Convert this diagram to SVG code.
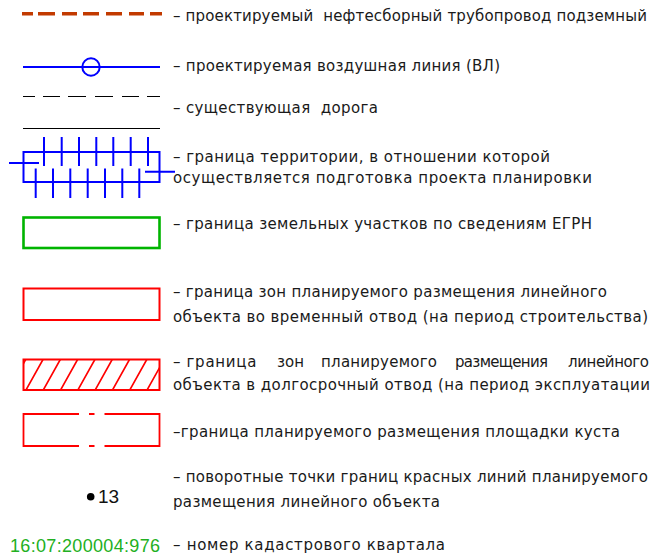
<svg xmlns="http://www.w3.org/2000/svg" width="651" height="560" viewBox="0 0 651 560">
<style>
text.t{font-family:"DejaVu Sans","Noto Sans",sans-serif;font-size:15px;fill:#1a1a1a;white-space:pre}
.blue{stroke:#0000ff;stroke-width:2;fill:none}
.red{stroke:#ff0000;stroke-width:2;fill:none}
</style>
<defs>
<clipPath id="hc"><rect x="23" y="359.5" width="137" height="30.5"/></clipPath>
</defs>
<rect width="651" height="560" fill="#ffffff"/>

<g id="pipeline">
<line x1="22" y1="13.7" x2="162" y2="13.7" stroke="#c23a00" stroke-width="3.5" stroke-dasharray="11 5 17 7 15 6 16 7 16 7 15 6 16 8 10"/>
<text class="t" x="173" y="21" textLength="474">– проектируемый  нефтесборный трубопровод подземный</text>
</g>

<g id="overhead-line">
<line x1="23" y1="67" x2="160" y2="67" class="blue"/>
<circle cx="91" cy="67" r="8.7" class="blue" stroke-width="2.2" fill="#ffffff"/>
<text class="t" x="173" y="71" textLength="327">– проектируемая воздушная линия (ВЛ)</text>
</g>

<g id="road">
<line x1="23" y1="96.5" x2="160" y2="96.5" stroke="#000" stroke-width="1.2" stroke-dasharray="12 8 17 8 18 9 18 9 17 8 17"/>
<line x1="23" y1="128.5" x2="160" y2="128.5" stroke="#000" stroke-width="1.2"/>
<text class="t" x="173" y="113" textLength="205">– существующая  дорога</text>
</g>

<g id="territory">
<rect x="23.5" y="152" width="136" height="30" class="blue"/>
<path class="blue" d="M44 137V166M61.7 137V166M79 137V166M96.3 137V166M113.3 137V166M130.7 137V166M148 137V166M35.7 168.5V198M53 168.5V198M70.3 168.5V198M87.7 168.5V198M105 168.5V198M122.3 168.5V198M139.3 168.5V198M9 163H39M145 171.7H175"/>
<text class="t" x="173" y="162" textLength="377">– граница территории, в отношении которой</text>
<text class="t" x="173" y="183" textLength="419">осуществляется подготовка проекта планировки</text>
</g>

<g id="land-plots">
<rect x="23.5" y="217.5" width="136" height="30.5" fill="none" stroke="#00b400" stroke-width="2.6"/>
<text class="t" x="173" y="229" textLength="419">– граница земельных участков по сведениям ЕГРН</text>
</g>

<g id="temporary-zone">
<rect x="23.5" y="288.5" width="136" height="31.5" class="red"/>
<text class="t" x="173" y="297" textLength="434">– граница зон планируемого размещения линейного</text>
<text class="t" x="173" y="322" textLength="475">объекта во временный отвод (на период строительства)</text>
</g>

<g id="longterm-zone">
<g clip-path="url(#hc)" stroke="#ff0000" stroke-width="1.6">
<path d="M8.7 390L25.7 359.5M26 390L43 359.5M43.3 390L60.3 359.5M60.6 390L77.6 359.5M77.9 390L94.9 359.5M95.2 390L112.2 359.5M112.5 390L129.5 359.5M129.8 390L146.8 359.5M147.1 390L164.1 359.5"/>
</g>
<rect x="23.5" y="359.5" width="136" height="30.5" class="red"/>
<text class="t" x="173" y="367">–</text>
<text class="t" x="186.5" y="367" textLength="70">граница</text>
<text class="t" x="277" y="367">зон</text>
<text class="t" x="321" y="367" textLength="116">планируемого</text>
<text class="t" x="455" y="367" textLength="93">размещения</text>
<text class="t" x="568" y="367" textLength="81">линейного</text>
<text class="t" x="173" y="390" textLength="477">объекта в долгосрочный отвод (на период эксплуатации</text>
</g>

<g id="pad-zone">
<path d="M79 414H23.5V446H79M89 414H94.5M89 446H94.5M104.5 414H159.5V446H104.5" stroke="#ff0000" stroke-width="1.8" fill="none"/>
<text class="t" x="173" y="437" textLength="447">–граница планируемого размещения площадки куста</text>
</g>

<g id="turn-points">
<circle cx="90.7" cy="496.7" r="3.8" fill="#000"/>
<text x="98" y="503" font-family="Liberation Sans, Arial, sans-serif" font-size="19" fill="#111" textLength="21">13</text>
<text class="t" x="173" y="482" textLength="475">– поворотные точки границ красных линий планируемого</text>
<text class="t" x="173" y="507" textLength="267">размещения линейного объекта</text>
</g>

<g id="cadastral">
<text x="10" y="552" font-family="Liberation Sans, Arial, sans-serif" font-size="18" fill="#22b022" textLength="150">16:07:200004:976</text>
<text class="t" x="173" y="550" textLength="272">– номер кадастрового квартала</text>
</g>
</svg>
